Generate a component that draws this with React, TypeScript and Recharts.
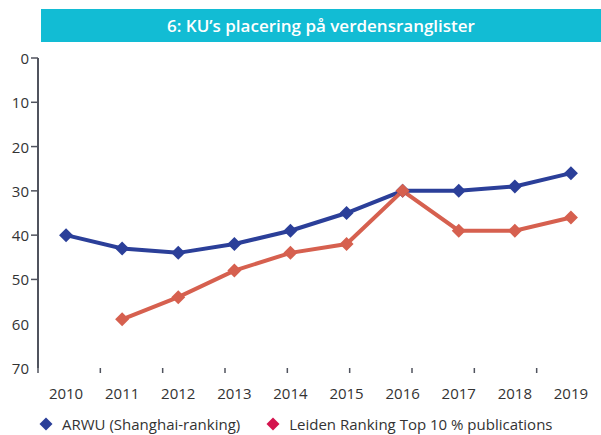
import React from 'react';
import { LineChart, Line, XAxis, YAxis } from 'recharts';

const years = ['2010', '2011', '2012', '2013', '2014', '2015', '2016', '2017', '2018', '2019'];
const arwu = [40, 43, 44, 42, 39, 35, 30, 30, 29, 26];
const leiden = [null, 59, 54, 48, 44, 42, 30, 39, 39, 36];
const yTicks = [0, 10, 20, 30, 40, 50, 60, 70];
const yTicksWithMark = [0, 10, 20, 30, 40, 50];
const edgeTicks = [0, 1, 2, 3, 4, 5, 6, 7, 8, 9, 10];

const title = '6: KU\u2019s placering på verdensranglister';
const seriesNames = ['ARWU (Shanghai-ranking)', 'Leiden Ranking Top 10 % publications'];
const lineColors = ['#2B3F99', '#D6604F'];
const legendColors = ['#2B3F99', '#D4144E'];

const data = years.map((y, i) => ({ year: y, arwu: arwu[i], leiden: leiden[i] }));

const FONT = '"Open Sans", "DejaVu Sans", sans-serif';
const AXIS = '#50535E';

const Diamond = (props: any) => {
  const { cx, cy, stroke } = props;
  if (cx == null || cy == null || props.value == null) return null;
  const r = 7;
  return (
    <polygon
      points={`${cx},${cy - r} ${cx + r},${cy} ${cx},${cy + r} ${cx - r},${cy}`}
      fill={stroke}
      stroke="none"
    />
  );
};

const YTick = (props: any) => {
  const { x, y, payload } = props;
  const v = payload.value;
  return (
    <g>
      <text x={x} y={y} dy="0.4em" textAnchor="end" fontSize={15} fill="#333" fontFamily={FONT}>
        {v}
      </text>
      {yTicksWithMark.includes(v) && (
        <line x1={x + 2} x2={x + 9} y1={y} y2={y} stroke={AXIS} strokeWidth={1.5} />
      )}
    </g>
  );
};

const LegendItem = ({ color, label }: { color: string; label: string }) => (
  <div style={{ display: 'flex', alignItems: 'center', marginRight: 26 }}>
    <svg width={14} height={14} style={{ marginRight: 9 }}>
      <polygon points="7,0.5 13.5,7 7,13.5 0.5,7" fill={color} />
    </svg>
    <span style={{ fontSize: 15, color: '#333', fontFamily: FONT, whiteSpace: 'nowrap' }}>{label}</span>
  </div>
);

export default function App() {
  return (
    <div style={{ position: 'absolute', left: 0, top: 0, width: 601, height: 435, background: '#fff' }}>
      <div
        style={{
          position: 'absolute',
          left: 41,
          top: 9,
          width: 560,
          height: 33,
          background: '#12BCD4',
          color: '#fff',
          fontFamily: FONT,
          fontWeight: 600,
          fontSize: 17,
          display: 'flex',
          alignItems: 'center',
          justifyContent: 'center',
        }}
      >
        {title}
      </div>
      <LineChart
        width={601}
        height={435}
        data={data}
        margin={{ top: 58, right: 2, left: 0, bottom: 20 }}
        style={{ position: 'absolute', left: 0, top: 0 }}
      >
        <XAxis
          xAxisId="aEdge"
          type="number"
          domain={[0, 10]}
          ticks={edgeTicks}
          allowDataOverflow
          axisLine={false}
          tickLine={{ stroke: AXIS, strokeWidth: 1.5 }}
          tickSize={5}
          tickFormatter={() => ''}
          height={1}
        />
        <XAxis
          xAxisId="zCat"
          dataKey="year"
          scale="band"
          interval={0}
          axisLine={false}
          tickLine={false}
          tickSize={6}
          tickMargin={13}
          height={46}
          tick={{ fontSize: 15, fill: '#333', fontFamily: FONT }}
        />
        <YAxis
          reversed
          domain={[0, 70]}
          ticks={yTicks}
          interval={0}
          width={38}
          axisLine={{ stroke: AXIS, strokeWidth: 2 }}
          tickLine={false}
          tickSize={7}
          tickMargin={2}
          tick={<YTick />}
        />
        <Line
          xAxisId="zCat"
          dataKey="arwu"
          stroke={lineColors[0]}
          strokeWidth={4}
          dot={<Diamond />}
          activeDot={false}
          isAnimationActive={false}
        />
        <Line
          xAxisId="zCat"
          dataKey="leiden"
          stroke={lineColors[1]}
          strokeWidth={4}
          dot={<Diamond />}
          activeDot={false}
          isAnimationActive={false}
        />
      </LineChart>
      <div
        style={{
          position: 'absolute',
          left: 39,
          top: 414,
          display: 'flex',
          alignItems: 'center',
        }}
      >
        <LegendItem color={legendColors[0]} label={seriesNames[0]} />
        <LegendItem color={legendColors[1]} label={seriesNames[1]} />
      </div>
    </div>
  );
}
